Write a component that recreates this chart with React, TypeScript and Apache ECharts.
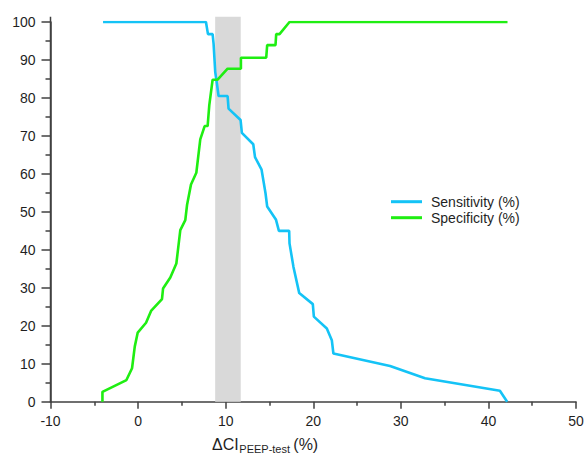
import React, { useEffect, useRef } from "react";
import * as echarts from "echarts";

const sensX = [-4.0, 7.75, 7.98, 8.51, 8.62, 8.81, 9.0, 9.19, 10.22, 10.33, 11.7, 11.85, 13.15, 13.35, 14.1, 14.55, 14.74, 15.75, 16.08, 17.25, 17.29, 17.74, 18.4, 19.95, 20.07, 21.55, 22.12, 22.3, 28.77, 32.76, 41.31, 42.14];
const sensY = [100, 100, 96.8, 96.8, 94.3, 86.8, 83.8, 80.5, 80.5, 77.2, 74.2, 70.8, 67.8, 64.4, 61.1, 54.9, 51.4, 47.9, 45.0, 45.0, 41.7, 35.5, 28.6, 25.7, 22.4, 19.3, 16.2, 12.7, 9.4, 6.2, 2.9, 0];

const specX = [-4.07, -4.07, -1.33, -0.69, -0.38, -0.04, 0.91, 1.48, 2.73, 2.85, 3.68, 4.37, 4.82, 5.39, 5.59, 6.04, 6.65, 7.1, 7.6, 7.94, 8.13, 8.51, 9.08, 10.22, 11.74, 11.74, 14.63, 14.74, 15.69, 15.77, 16.15, 17.29, 42.18];
const specY = [0, 2.6, 5.7, 8.8, 14.5, 18.2, 20.8, 23.9, 27.0, 29.8, 32.7, 36.4, 45.2, 47.8, 51.8, 57.2, 60.3, 69.1, 72.6, 72.6, 78.1, 84.8, 84.8, 87.7, 87.7, 90.6, 90.6, 93.9, 93.9, 96.8, 96.8, 100, 100];

const bandRange = [8.8, 11.72];
const seriesNames = ["Sensitivity (%)", "Specificity (%)"];

const FONT = "'Liberation Sans', Arial, sans-serif";
const TXT = "#1f1f1f";
const AX = "#404040";
const OVERSHOOT = 5.3; // px the band and y axis line extend above 100

export default function App() {
  const ref = useRef<HTMLDivElement>(null);
  useEffect(() => {
    document.body.style.margin = "0";
    const chart = echarts.init(ref.current!, null, { renderer: "svg" });
    const sens = sensX.map((x, i) => [x, sensY[i]]);
    const spec = specX.map((x, i) => [x, specY[i]]);
    const gridLeft = 50.5;
    const gridTop = 22;
    const gridH = 379.7;
    chart.setOption({
      animation: false,
      backgroundColor: "#ffffff",
      textStyle: { fontFamily: FONT },
      grid: { left: gridLeft, top: gridTop, width: 525.5, height: gridH, containLabel: false, outerBoundsMode: "none" },
      legend: {
        orient: "vertical",
        left: 391,
        top: 193.7,
        padding: 0,
        itemWidth: 31,
        itemHeight: 3,
        itemGap: 0,
        icon: "rect",
        data: seriesNames,
        textStyle: { fontSize: 14, color: TXT, fontFamily: FONT, lineHeight: 16, padding: [0, 0, 0, 4] },
      },
      xAxis: {
        type: "value",
        min: -10,
        max: 50,
        interval: 10,
        axisLine: { show: true, onZero: false, lineStyle: { color: AX, width: 1.5 } },
        axisTick: { show: true, length: 7, lineStyle: { color: AX, width: 1.5 } },
        minorTick: { show: true, splitNumber: 2, length: 4, lineStyle: { color: AX, width: 1.5 } },
        axisLabel: { fontSize: 14, color: TXT, margin: 12, fontFamily: FONT },
        splitLine: { show: false },
        minorSplitLine: { show: false },
      },
      yAxis: {
        type: "value",
        min: 0,
        max: 100,
        interval: 10,
        axisLine: { show: true, onZero: false, lineStyle: { color: AX, width: 1.5 } },
        axisTick: { show: true, length: 9, lineStyle: { color: AX, width: 1.5 } },
        minorTick: { show: true, splitNumber: 2, length: 5, lineStyle: { color: AX, width: 1.5 } },
        axisLabel: { fontSize: 14, color: TXT, margin: 15, fontFamily: FONT },
        splitLine: { show: false },
        minorSplitLine: { show: false },
      },
      series: [
        {
          type: "custom",
          name: "band",
          silent: true,
          clip: false,
          z: 1,
          data: [[bandRange[0], bandRange[1]]],
          encode: { x: [0, 1] },
          renderItem: (params: any, api: any) => {
            const p0 = api.coord([api.value(0), 0]);
            const p1 = api.coord([api.value(1), 100]);
            return {
              type: "rect",
              shape: { x: p0[0], y: p1[1] - OVERSHOOT, width: p1[0] - p0[0], height: p0[1] - p1[1] + OVERSHOOT },
              style: { fill: "#d9d9d9" },
            };
          },
        },
        {
          name: seriesNames[0],
          type: "line",
          data: sens,
          showSymbol: false,
          symbol: "none",
          z: 3,
          color: "#14c3f6",
          lineStyle: { width: 2.6, color: "#14c3f6" },
        },
        {
          name: seriesNames[1],
          type: "line",
          data: spec,
          showSymbol: false,
          symbol: "none",
          z: 4,
          color: "#1fee12",
          lineStyle: { width: 2.6, color: "#1fee12" },
        },
      ],
      graphic: [
        {
          type: "rect",
          silent: true,
          z: 10,
          shape: { x: gridLeft - 0.75, y: gridTop - OVERSHOOT, width: 1.5, height: gridH + OVERSHOOT + 0.75 },
          style: { fill: AX },
        },
        { type: "text", left: 212, top: 436, style: { text: "ΔCI", font: `16px ${FONT}`, fill: TXT } },
        { type: "text", left: 239.3, top: 443, style: { text: "PEEP-test", font: `11px ${FONT}`, fill: TXT } },
        { type: "text", left: 293.3, top: 436, style: { text: "(%)", font: `16px ${FONT}`, fill: TXT } },
      ],
    });
    return () => chart.dispose();
  }, []);
  return <div ref={ref} style={{ width: 585, height: 455 }} />;
}
